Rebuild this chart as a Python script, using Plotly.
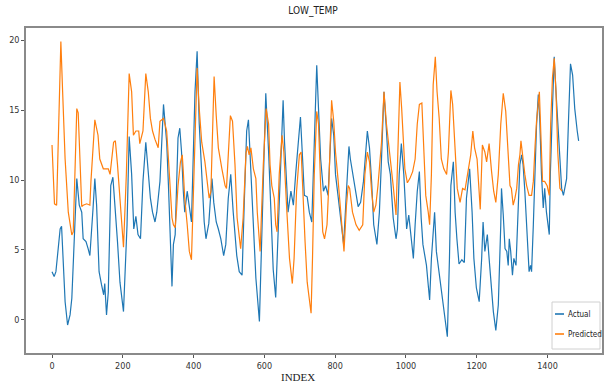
import plotly.graph_objects as go

# ---- data (index, value) ----
actual_idx = [0, 6, 11, 18, 23, 27, 32, 37, 44, 51, 56, 65, 70, 77, 84, 88, 96, 102, 107, 116,
              121, 126, 133, 140, 146, 149, 154, 159, 166, 172, 179, 185, 192, 202, 212, 218, 225, 231, 237, 243,
              250, 257, 265, 272, 278, 284, 291, 296, 305, 315, 319, 324, 329, 334, 339, 343, 348, 352, 356, 361,
              366, 371, 375, 382, 388, 394, 404, 410, 416, 423, 430, 435, 443, 447, 452, 457, 464, 470, 477, 485,
              491, 498, 505, 512, 522, 529, 537, 543, 550, 555, 561, 569, 576, 586, 593, 604, 612, 618, 625, 632,
              643, 653, 657, 667, 675, 682, 689, 702, 708, 713, 721, 727, 734, 739, 744, 748, 753, 759, 767, 773,
              780, 785, 790, 796, 801, 808, 814, 824, 832, 839, 843, 849, 856, 865, 872, 880, 891, 897, 903, 909,
              918, 925, 931, 938, 945, 950, 956, 964, 972, 976, 981, 987, 994, 1002, 1008, 1013, 1021, 1026, 1032, 1038,
              1043, 1048, 1058, 1063, 1067, 1072, 1077, 1081, 1086, 1091, 1097, 1103, 1110, 1117, 1123, 1127, 1134, 1139, 1144, 1150,
              1158, 1165, 1171, 1180, 1187, 1192, 1199, 1207, 1214, 1218, 1223, 1230, 1235, 1240, 1247, 1254, 1261, 1268, 1270, 1275,
              1280, 1285, 1289, 1292, 1296, 1301, 1305, 1311, 1318, 1322, 1327, 1331, 1336, 1341, 1346, 1348, 1352, 1355, 1360, 1365,
              1369, 1374, 1378, 1383, 1388, 1392, 1397, 1405, 1408, 1413, 1419, 1424, 1430, 1435, 1440, 1445, 1449, 1454, 1459, 1465,
              1471, 1477, 1484, 1488]
actual_val = [3.45, 3.1, 3.45, 5.6, 6.5, 6.7, 4.4, 1.3, -0.36, 0.36, 1.55, 6.8, 10.1, 8.2, 7.7, 5.8, 5.6, 5.1, 4.6, 8.0,
              10.1, 8.2, 3.45, 2.5, 1.8, 2.6, 0.36, 2.0, 9.6, 10.2, 8.0, 5.6, 2.7, 0.6, 6.8, 13.1, 10.4, 6.5, 7.4, 6.1,
              5.8, 9.9, 12.7, 10.8, 8.7, 7.7, 7.0, 7.7, 9.9, 15.4, 14.2, 12.7, 9.6, 6.3, 2.4, 5.4, 6.1, 9.6, 13.0, 13.7,
              12.0, 9.2, 7.7, 9.2, 8.0, 7.0, 16.3, 19.2, 14.0, 10.4, 7.0, 5.8, 6.9, 8.4, 10.1, 8.4, 7.0, 6.5, 5.8, 4.6,
              5.4, 8.7, 10.4, 7.7, 4.6, 3.45, 3.2, 8.2, 13.5, 14.3, 10.8, 6.3, 3.0, -0.1, 6.8, 16.2, 12.0, 8.0, 3.6, 1.6,
              9.2, 15.7, 12.7, 7.7, 9.2, 8.2, 10.6, 14.5, 11.5, 8.9, 8.8, 7.7, 7.0, 11.5, 16.3, 18.2, 15.1, 11.5, 9.2, 9.6,
              8.9, 11.8, 14.4, 13.2, 10.4, 8.9, 7.7, 5.4, 9.2, 12.4, 11.5, 10.6, 9.4, 8.1, 8.4, 9.9, 13.5, 12.3, 9.9, 6.8,
              5.4, 7.7, 11.5, 16.3, 13.5, 11.3, 10.4, 7.3, 5.8, 6.5, 10.4, 12.6, 10.4, 6.5, 7.5, 6.3, 4.4, 6.8, 9.2, 10.6,
              7.3, 5.4, 3.9, 2.5, 1.43, 4.4, 6.3, 7.7, 4.9, 3.9, 2.5, 1.55, 0.12, -1.2, 4.4, 9.6, 11.3, 7.7, 5.8, 4.0,
              4.3, 4.1, 8.7, 10.8, 7.7, 4.4, 2.3, 1.31, 4.4, 7.0, 4.9, 6.1, 4.4, 3.0, 0.6, -0.74, 1.07, 6.8, 9.4, 7.5,
              5.1, 4.9, 3.9, 5.8, 4.9, 3.2, 4.4, 3.9, 9.2, 11.1, 11.8, 11.1, 9.2, 6.8, 4.4, 3.45, 3.9, 3.45, 6.8, 11.5,
              13.9, 16.1, 14.4, 10.4, 8.0, 9.4, 7.7, 6.1, 10.4, 14.4, 18.8, 16.3, 14.0, 11.3, 9.4, 8.9, 9.6, 10.1, 14.0, 18.3,
              17.5, 15.1, 13.5, 12.8]

pred_idx = [0, 7, 13, 25, 30, 37, 46, 56, 60, 70, 74, 79, 84, 88, 98, 107, 110, 121, 126, 130,
            135, 140, 145, 159, 164, 174, 179, 185, 197, 202, 210, 218, 225, 230, 237, 245, 248, 257, 265, 272,
            278, 284, 291, 300, 305, 315, 319, 324, 329, 334, 339, 343, 348, 352, 356, 363, 368, 371, 375, 382,
            388, 394, 404, 410, 416, 423, 432, 439, 444, 449, 454, 458, 464, 470, 480, 489, 493, 498, 504, 510,
            517, 523, 533, 540, 548, 552, 557, 562, 569, 576, 580, 588, 597, 605, 612, 616, 621, 628, 632, 636,
            642, 650, 655, 663, 671, 679, 684, 691, 699, 704, 708, 715, 721, 732, 736, 741, 748, 753, 759, 765,
            770, 777, 782, 790, 796, 801, 808, 814, 820, 825, 832, 837, 841, 849, 859, 868, 878, 884, 891, 897,
            903, 909, 915, 921, 931, 938, 945, 952, 959, 964, 972, 978, 983, 988, 992, 997, 1004, 1011, 1019, 1026,
            1032, 1038, 1045, 1049, 1056, 1063, 1067, 1072, 1077, 1083, 1088, 1094, 1100, 1107, 1115, 1120, 1127, 1132, 1139, 1145,
            1153, 1160, 1167, 1176, 1183, 1189, 1194, 1201, 1207, 1210, 1216, 1223, 1228, 1235, 1242, 1248, 1254, 1261, 1268, 1275,
            1282, 1289, 1294, 1298, 1303, 1308, 1313, 1318, 1322, 1325, 1330, 1336, 1341, 1348, 1355, 1360, 1365, 1369, 1377, 1381,
            1386, 1392, 1399, 1405, 1409, 1414, 1419, 1424, 1429, 1435, 1441]
pred_val = [12.5, 8.3, 8.2, 19.9, 16.3, 11.5, 7.7, 6.07, 6.3, 15.1, 14.8, 11.5, 8.1, 8.2, 8.3, 8.2, 9.9, 14.3, 13.5, 13.2,
            11.5, 11.1, 10.8, 10.8, 10.4, 12.7, 12.8, 11.1, 6.8, 5.2, 10.4, 17.6, 16.3, 13.2, 13.5, 13.5, 12.6, 13.5, 17.6, 16.3,
            14.4, 13.5, 12.9, 12.3, 14.2, 14.4, 14.0, 13.5, 11.5, 9.2, 7.3, 6.8, 6.6, 7.9, 9.6, 11.3, 11.8, 10.6, 8.7, 6.8,
            4.9, 4.3, 14.0, 18.0, 15.1, 12.7, 11.3, 9.9, 8.7, 9.2, 15.1, 17.4, 14.6, 12.3, 10.8, 9.6, 9.4, 11.9, 14.6, 14.2,
            11.1, 7.3, 5.1, 7.3, 11.9, 12.4, 11.8, 12.3, 10.8, 10.1, 7.7, 4.9, 11.1, 15.1, 14.0, 11.1, 9.6, 8.7, 6.8, 6.3,
            10.4, 13.2, 12.0, 8.0, 4.4, 2.6, 4.4, 9.2, 11.8, 12.0, 9.2, 5.6, 2.7, 0.48, 4.4, 10.4, 14.9, 14.0, 9.6, 6.3,
            5.8, 6.8, 9.6, 15.7, 14.2, 12.0, 10.1, 8.2, 6.3, 4.9, 8.2, 9.6, 9.4, 7.7, 6.8, 6.4, 6.8, 10.4, 12.0, 11.3,
            9.2, 7.7, 8.2, 9.6, 12.7, 16.3, 14.0, 12.5, 10.8, 9.6, 7.5, 12.7, 17.0, 15.1, 13.5, 10.8, 9.8, 10.1, 10.6, 11.5,
            14.0, 15.4, 15.5, 12.7, 8.9, 7.7, 6.8, 10.4, 16.8, 18.8, 16.3, 14.4, 11.5, 10.8, 10.4, 12.0, 16.4, 15.4, 12.0, 9.4,
            8.4, 9.4, 9.3, 10.6, 11.8, 13.5, 12.3, 11.5, 9.2, 7.9, 12.5, 12.0, 11.3, 12.6, 10.6, 9.2, 8.4, 10.4, 14.0, 16.2,
            14.9, 11.5, 9.6, 9.4, 8.2, 8.7, 9.4, 11.1, 11.8, 12.8, 11.5, 10.4, 9.6, 8.9, 8.9, 9.9, 12.5, 14.2, 16.3, 12.7,
            9.9, 9.9, 9.6, 8.9, 14.0, 17.3, 18.7, 16.3, 12.0, 9.4, 9.2]

x_ticks = [0, 200, 400, 600, 800, 1000, 1200, 1400]
y_ticks = [0, 5, 10, 15, 20]
series_names = ["Actual", "Predicted"]
series_colors = ["#1f77b4", "#ff7f0e"]

FONT = "Liberation Sans Narrow, DejaVu Sans Condensed, Liberation Sans, sans-serif"

# plot-area geometry in pixels
W, H = 605, 387
ML, MR, MT, MB = 26, 3, 28, 34
PW, PH = W - ML - MR, H - MT - MB


def px_x(p):
    return (p - ML) / PW


def px_y(p):
    return (H - MB - p) / PH


fig = go.Figure()
fig.add_trace(go.Scatter(x=actual_idx, y=actual_val, mode="lines", name=series_names[0],
                         line=dict(color=series_colors[0], width=1.2), showlegend=False))
fig.add_trace(go.Scatter(x=pred_idx, y=pred_val, mode="lines", name=series_names[1],
                         line=dict(color=series_colors[1], width=1.2), showlegend=False))

axis_common = dict(showgrid=False, zeroline=False, showline=True, mirror=True, automargin=False,
                   linecolor="#8a8a8a", linewidth=1.5, ticks="outside", ticklen=3,
                   tickcolor="#555", tickfont=dict(family=FONT, size=9, color="#333"))

# matplotlib-like legend box in the lower right
shapes = [dict(type="rect", xref="paper", yref="paper",
               x0=px_x(552), x1=px_x(600), y0=px_y(349), y1=px_y(302),
               line=dict(color="#d0d0d0", width=1), fillcolor="rgba(255,255,255,0.85)", layer="above")]
annotations = []
for i, (nm, col) in enumerate(zip(series_names, series_colors)):
    yc = 314 + i * 20
    shapes.append(dict(type="line", xref="paper", yref="paper",
                       x0=px_x(555), x1=px_x(564), y0=px_y(yc), y1=px_y(yc),
                       line=dict(color=col, width=1.6), layer="above"))
    annotations.append(dict(text=nm, xref="paper", yref="paper", x=px_x(566), y=px_y(yc),
                            xanchor="left", yanchor="middle", showarrow=False,
                            font=dict(family=FONT, size=8, color="#222")))

annotations.append(dict(text="INDEX", xref="paper", yref="paper", x=px_x(298), y=px_y(369),
                        xanchor="center", yanchor="top", showarrow=False,
                        font=dict(family="Liberation Serif, DejaVu Serif, serif", size=11, color="#222")))

fig.update_layout(
    width=W, height=H,
    margin=dict(l=ML, r=MR, t=MT, b=MB),
    paper_bgcolor="white", plot_bgcolor="white",
    title=dict(text="LOW_TEMP", x=313 / W, xanchor="center", y=1 - 7 / H, yanchor="top",
               font=dict(family=FONT, size=10, color="#222")),
    xaxis=dict(range=[-73.5, 1554], tickvals=x_ticks, ticktext=[str(t) for t in x_ticks], **axis_common),
    yaxis=dict(range=[-2.36, 20.86], tickvals=y_ticks, ticktext=[str(t) for t in y_ticks], **axis_common),
    showlegend=False,
    shapes=shapes,
    annotations=annotations,
)

fig.write_html("out.html", config={"displayModeBar": False},
               post_script="document.body.style.margin='0px';document.body.style.padding='0px';")
